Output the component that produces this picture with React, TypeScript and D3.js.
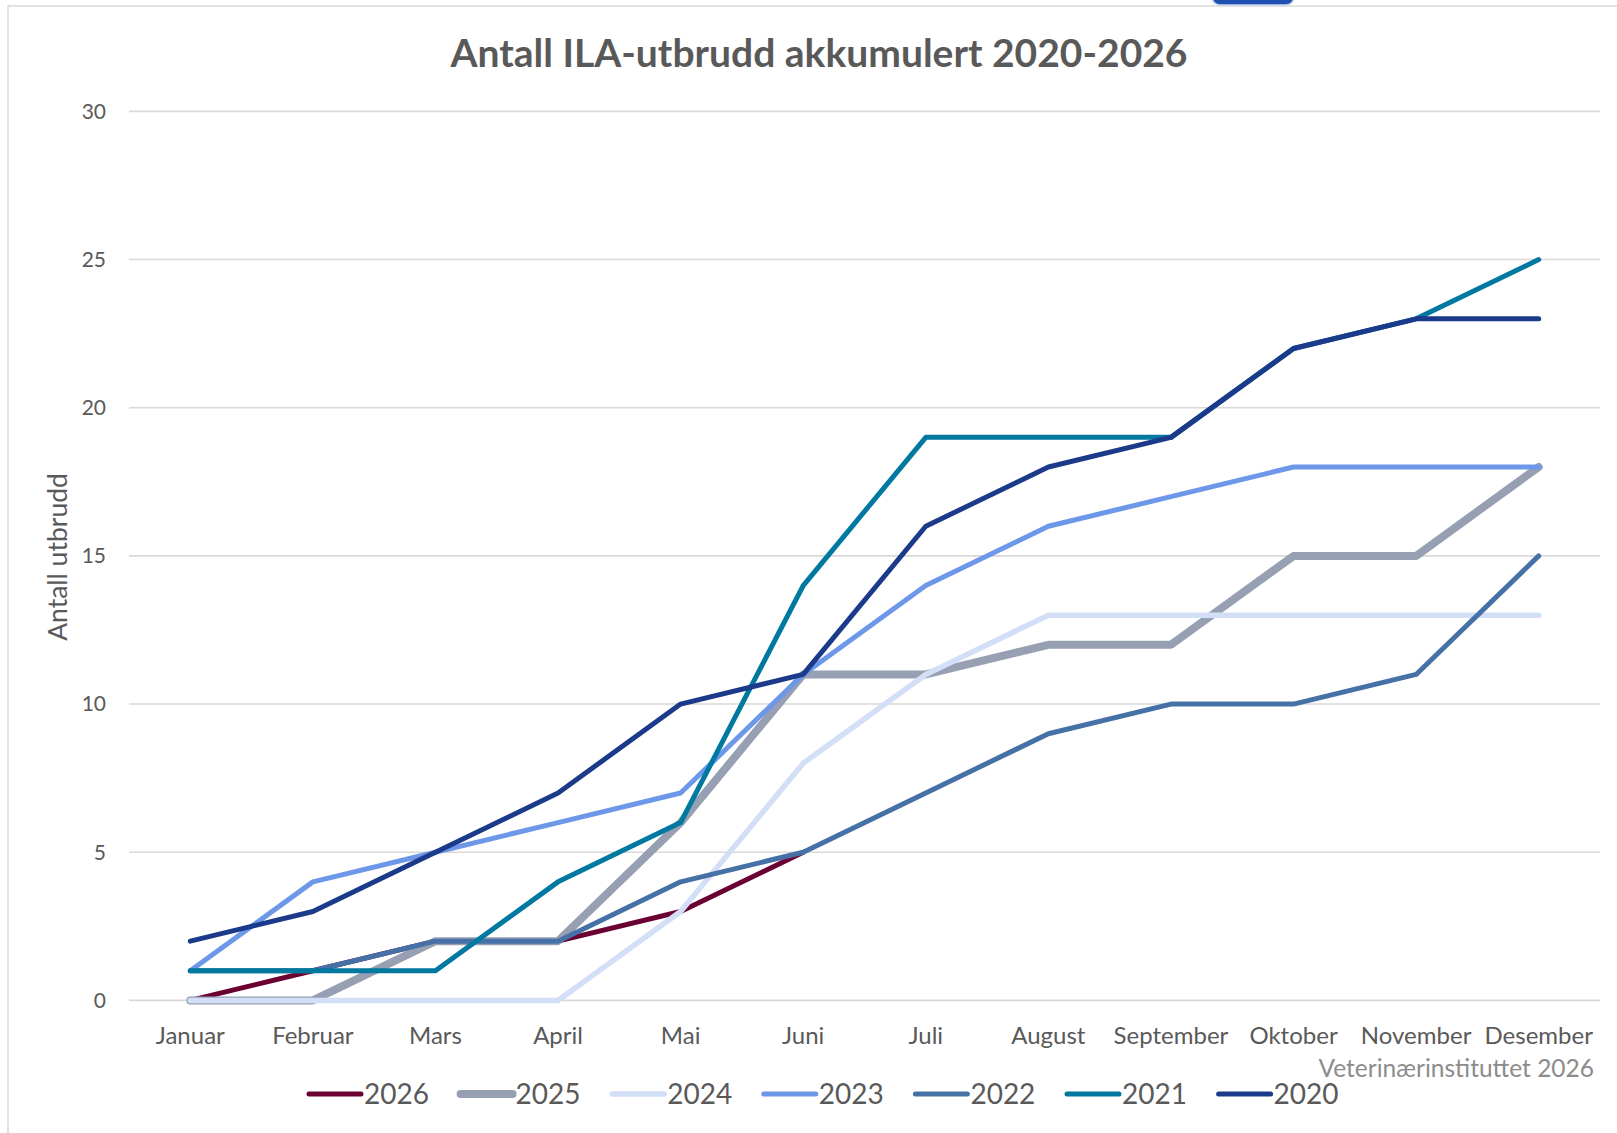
import React from "react";
import * as d3 from "d3";

const months = ["Januar", "Februar", "Mars", "April", "Mai", "Juni", "Juli", "August", "September", "Oktober", "November", "Desember"];
const yTicks = [0, 5, 10, 15, 20, 25, 30];

const s2026 = [0, 1, 2, 2, 3, 5];
const s2025 = [0, 0, 2, 2, 6, 11, 11, 12, 12, 15, 15, 18];
const s2024 = [0, 0, 0, 0, 3, 8, 11, 13, 13, 13, 13, 13];
const s2023 = [1, 4, 5, 6, 7, 11, 14, 16, 17, 18, 18, 18];
const s2022 = [1, 1, 2, 2, 4, 5, 7, 9, 10, 10, 11, 15];
const s2021 = [1, 1, 1, 4, 6, 14, 19, 19, 19, 22, 23, 25];
const s2020 = [2, 3, 5, 7, 10, 11, 16, 18, 19, 22, 23, 23];

const seriesNames = ["2026", "2025", "2024", "2023", "2022", "2021", "2020"];
const seriesValues = [s2026, s2025, s2024, s2023, s2022, s2021, s2020];
const seriesColors = ["#6b0033", "#97a0b3", "#d3dff7", "#6d97e8", "#4671a6", "#0078a0", "#1b3a8a"];
const seriesWidths = [5, 8, 5.5, 5, 5, 5, 5];

const title = "Antall ILA-utbrudd akkumulert 2020-2026";
const yTitle = "Antall utbrudd";
const source = "Veterinærinstituttet 2026";

export default function App() {
  const W = 1617, H = 1133;
  const left = 129, right = 1600, top = 111.4, bottom = 1000.4;
  const x = d3.scalePoint<string>().domain(months).range([left, right]).padding(0.5);
  const y = d3.scaleLinear().domain([0, 30]).range([bottom, top]);
  const line = d3.line<number>().x((_, i) => x(months[i]) as number).y((d) => y(d));
  const font = "Lato, 'Open Sans', sans-serif";
  const legX0 = 307, legStep = 151.6, legY = 1094;

  return (
    <svg width={W} height={H} style={{ position: "absolute", left: 0, top: 0, background: "#fff" }} fontFamily={font}>
      <rect x={0} y={0} width={W} height={H} fill="#fff" />
      <rect x={8} y={6} width={W + 20} height={H + 20} fill="none" stroke="#d9d9d9" strokeWidth={1.5} />
      <rect x={1212} y={-20} width={82} height={25} rx={8} fill="#1f4fb0" stroke="#c9d6ef" strokeWidth={1.5} />
      <text x={819} y={67} textAnchor="middle" fontSize={39} fontWeight="bold" fill="#595959">{title}</text>
      {yTicks.map((t) => (
        <g key={t}>
          <line x1={left} x2={right} y1={y(t)} y2={y(t)} stroke="#d9d9d9" strokeWidth={1.6} />
          <text x={106} y={y(t)} dy="0.35em" textAnchor="end" fontSize={21} fill="#595959">{t}</text>
        </g>
      ))}
      {months.map((m) => (
        <text key={m} x={x(m)} y={1044} textAnchor="middle" fontSize={24} fill="#595959">{m}</text>
      ))}
      <text transform={`translate(67,557) rotate(-90)`} textAnchor="middle" fontSize={26.5} fill="#595959">{yTitle}</text>
      {seriesValues.map((vals, i) => (
        <path key={seriesNames[i]} d={line(vals) || ""} fill="none" stroke={seriesColors[i]} strokeWidth={seriesWidths[i]} strokeLinejoin="round" strokeLinecap="round" />
      ))}
      <text x={1594} y={1077} textAnchor="end" fontSize={24.5} fill="#8c8c8c">{source}</text>
      {seriesNames.map((n, i) => (
        <g key={n} transform={`translate(${legX0 + i * legStep},${legY})`}>
          <line x1={2} x2={54} y1={0} y2={0} stroke={seriesColors[i]} strokeWidth={seriesWidths[i]} strokeLinecap="round" />
          <text x={57} y={0} dy="0.35em" fontSize={28} fill="#595959">{n}</text>
        </g>
      ))}
    </svg>
  );
}
